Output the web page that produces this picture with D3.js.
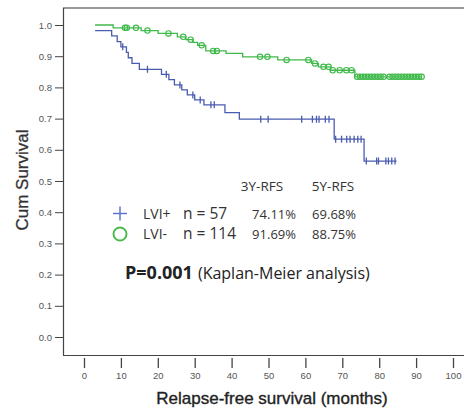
<!DOCTYPE html>
<html>
<head>
<meta charset="utf-8">
<script src="https://cdn.jsdelivr.net/npm/d3@7"></script>
<style>
  body { margin: 0; background: #fff; }
  svg { display: block; }
</style>
</head>
<body>
<div id="chart"></div>
<script>
// LVI+ curve: event times (months) and survival after each step
var posTimes  = [3, 7.5, 9, 10, 11.5, 12, 13, 15, 21, 23, 24.5, 26.5, 28, 30, 32.5, 38.2, 42.1, 67.8, 75.9];
var posSurv   = [0.982, 0.965, 0.947, 0.93, 0.912, 0.895, 0.877, 0.858, 0.842, 0.825, 0.808, 0.792, 0.776, 0.760, 0.744, 0.719, 0.698, 0.634, 0.564];
var posCensor = [10.5, 17.2, 22.3, 26, 29.5, 31.5, 34.4, 35.3, 47.9, 49.9, 59, 61.9, 63, 63.7, 65.4, 66.4,
                 68.2, 69.8, 71.2, 72.1, 73.2, 74.2, 75.1, 76.5, 79.3, 79.8, 81.8, 82.5, 83.4, 84.3];
var posEnd = 84.7;

// LVI- curve
var negTimes  = [3, 7.9, 15.5, 20.1, 25.3, 27.6, 29.5, 30.8, 33, 38.5, 43, 52.5, 61.7, 63.5, 66.8, 73.4];
var negSurv   = [1.0, 0.991, 0.982, 0.973, 0.962, 0.953, 0.944, 0.935, 0.917, 0.909, 0.898, 0.888, 0.877, 0.866, 0.855, 0.834];
var negCensor = [11.1, 11.6, 14.1, 17.2, 22.9, 26.9, 28.9, 31.9, 35, 36, 47.7, 49.7, 54.9, 60.8, 62.6, 64.9, 66.3,
                 67.4, 69.3, 71.1, 72.5, 74, 74.8, 75.6, 76.4, 77.2, 78, 78.8, 79.6, 80.4, 81.2, 82.8, 83.6, 84.4,
                 85.2, 86, 86.8, 87.6, 88.4, 89.2, 90, 90.8, 91.5];
var negEnd = 91.5;

var xTicks = [0, 10, 20, 30, 40, 50, 60, 70, 80, 90, 100];
var yTicks = [0, 0.1, 0.2, 0.3, 0.4, 0.5, 0.6, 0.7, 0.8, 0.9, 1.0];

var legendRows = [
  {name: "LVI+", n: "n = 57",  y3: "74.11%", y5: "69.68%"},
  {name: "LVI-", n: "n = 114", y3: "91.69%", y5: "88.75%"}
];

var W = 464, H = 408;
var blue = "#4a5cb0", green = "#3fb94a";

var svg = d3.select("#chart").append("svg")
    .attr("width", W).attr("height", H);

var x = d3.scaleLinear().domain([0, 100]).range([84, 453]);
var y = d3.scaleLinear().domain([0, 1]).range([337, 25]);

// frame
svg.append("line").attr("x1", 63).attr("x2", W).attr("y1", 8).attr("y2", 8)
    .attr("stroke", "#999").attr("stroke-width", 1.8);
svg.append("line").attr("x1", 63.5).attr("x2", 63.5).attr("y1", 8).attr("y2", 355)
    .attr("stroke", "#444").attr("stroke-width", 1.2);
svg.append("line").attr("x1", 63).attr("x2", W).attr("y1", 355.5).attr("y2", 355.5)
    .attr("stroke", "#444").attr("stroke-width", 1.2);

// y axis
var yAxis = svg.append("g")
    .attr("transform", "translate(63,0)")
    .call(d3.axisLeft(y).tickValues(yTicks).tickFormat(d3.format(".1f")).tickSize(8).tickPadding(3));
yAxis.select(".domain").remove();
yAxis.selectAll("line").attr("stroke", "#444");
yAxis.selectAll("text").attr("fill", "#555").style("font", "9.5px 'Liberation Sans', Arial");

// x axis (ticks sit below the frame)
var xAxis = svg.append("g")
    .attr("transform", "translate(0,358)")
    .call(d3.axisBottom(x).tickValues(xTicks).tickSize(10).tickPadding(4));
xAxis.select(".domain").remove();
xAxis.selectAll("line").attr("stroke", "#444").attr("stroke-width", 1.3);
xAxis.selectAll("text").attr("fill", "#555").style("font", "9.5px 'Liberation Sans', Arial");

// step path builder
function stepPoints(times, surv, end) {
  var pts = [];
  for (var i = 0; i < times.length; i++) {
    if (i > 0) pts.push([times[i], surv[i - 1]]);
    pts.push([times[i], surv[i]]);
  }
  pts.push([end, surv[surv.length - 1]]);
  return pts;
}
function survAt(times, surv, t) {
  var s = surv[0];
  for (var i = 0; i < times.length; i++) if (times[i] <= t) s = surv[i];
  return s;
}
var line = d3.line().x(function(d) { return x(d[0]); }).y(function(d) { return y(d[1]); });

svg.append("path")
    .datum(stepPoints(negTimes, negSurv, negEnd))
    .attr("fill", "none").attr("stroke", green).attr("stroke-width", 1.3)
    .attr("d", line);
svg.append("g").selectAll("circle")
    .data(negCensor).enter().append("circle")
    .attr("cx", function(d) { return x(d); })
    .attr("cy", function(d) { return y(survAt(negTimes, negSurv, d)); })
    .attr("r", 2.7)
    .attr("fill", "none").attr("stroke", green).attr("stroke-width", 1.1);

svg.append("path")
    .datum(stepPoints(posTimes, posSurv, posEnd))
    .attr("fill", "none").attr("stroke", blue).attr("stroke-width", 1.3)
    .attr("d", line);
svg.append("g").selectAll("line")
    .data(posCensor).enter().append("line")
    .attr("x1", function(d) { return x(d); })
    .attr("x2", function(d) { return x(d); })
    .attr("y1", function(d) { return y(survAt(posTimes, posSurv, d)) - 3.5; })
    .attr("y2", function(d) { return y(survAt(posTimes, posSurv, d)) + 3.5; })
    .attr("stroke", blue).attr("stroke-width", 1.3);

// legend / stats block
var txt = "'Open Sans', 'Noto Sans', sans-serif";
svg.append("text").attr("x", 262).attr("y", 191).attr("text-anchor", "middle")
    .attr("fill", "#333").style("font", "13.5px " + txt).text("3Y-RFS");
svg.append("text").attr("x", 333).attr("y", 191).attr("text-anchor", "middle")
    .attr("fill", "#333").style("font", "13.5px " + txt).text("5Y-RFS");

var rows = svg.append("g").selectAll("g")
    .data(legendRows).enter().append("g")
    .attr("transform", function(d, i) { return "translate(0," + (219 + i * 20) + ")"; });
rows.append("text").attr("x", 143).attr("fill", "#333").style("font", "14px " + txt)
    .text(function(d) { return d.name; });
rows.append("text").attr("x", 183).attr("fill", "#333").style("font", "15.5px " + txt)
    .text(function(d) { return d.n; });
rows.append("text").attr("x", 296).attr("text-anchor", "end").attr("fill", "#333").style("font", "13px " + txt)
    .text(function(d) { return d.y3; });
rows.append("text").attr("x", 356).attr("text-anchor", "end").attr("fill", "#333").style("font", "13px " + txt)
    .text(function(d) { return d.y5; });

// legend symbols
svg.append("line").attr("x1", 113).attr("x2", 127).attr("y1", 213.5).attr("y2", 213.5)
    .attr("stroke", "#6073d0").attr("stroke-width", 1.5);
svg.append("line").attr("x1", 120).attr("x2", 120).attr("y1", 206.5).attr("y2", 220.5)
    .attr("stroke", "#6073d0").attr("stroke-width", 1.5);
svg.append("circle").attr("cx", 120).attr("cy", 234).attr("r", 6.5)
    .attr("fill", "none").attr("stroke", "#4cbb4c").attr("stroke-width", 2);

// p-value
var p = svg.append("text").attr("x", 125).attr("y", 279).attr("fill", "#222");
p.append("tspan").style("font", "bold 18px " + txt).text("P=0.001");
p.append("tspan").attr("dx", 5).style("font", "16px " + txt).text("(Kaplan-Meier analysis)");

// axis titles
svg.append("text").attr("x", 272).attr("y", 404).attr("text-anchor", "middle")
    .attr("fill", "#222").attr("stroke", "#222").attr("stroke-width", 0.35)
    .style("font", "17px 'Liberation Sans', Arial").text("Relapse-free survival (months)");
svg.append("text").attr("transform", "translate(28,180) rotate(-90)").attr("text-anchor", "middle")
    .attr("fill", "#333").attr("stroke", "#333").attr("stroke-width", 0.3)
    .style("font", "17px 'Liberation Sans', Arial").text("Cum Survival");
</script>
</body>
</html>
